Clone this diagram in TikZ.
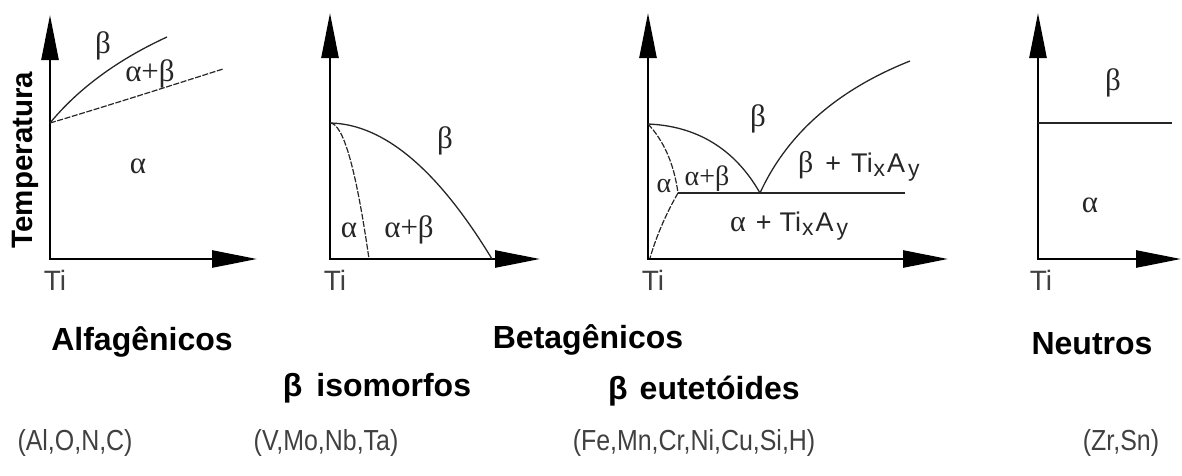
\documentclass[tikz,border=0pt]{standalone}
\usepackage{fontspec}
\setmainfont{Liberation Sans}
\newfontfamily\grk{Liberation Serif}
\usetikzlibrary{arrows.meta}
\newcommand\subl[1]{\raisebox{-4pt}{\fontsize{23}{23}\selectfont #1}}
\newcommand\TiXAy{Ti\hspace{1pt}\subl{x}\hspace{2pt}A\hspace{3pt}\subl{y}}
\begin{document}
\begin{tikzpicture}[x=1pt,y=-1pt,
  axis/.style={line width=2.6pt,{Triangle[length=45pt,width=17pt]}-{Triangle[length=45pt,width=17pt]}},
  bound/.style={line width=1.3pt, black!85},
  dbound/.style={line width=1.2pt, black!85, dash pattern=on 6pt off 1.6pt},
  gk/.style={font=\grk\fontsize{31}{33}\selectfont, text=black!85, inner sep=0pt, anchor=base},
  mix/.style={font=\fontsize{27}{30}\selectfont, text=black!85, inner sep=0pt, anchor=base west},
  tilab/.style={font=\fontsize{28}{30}\selectfont, text=black!75, inner sep=0pt, anchor=base},
  title/.style={font=\bfseries\fontsize{32}{34}\selectfont, inner sep=0pt, anchor=base},
  elem/.style={font=\fontsize{29}{31}\selectfont, text=black!75, inner sep=0pt, anchor=base, xscale=0.86}
]
\useasboundingbox (0,0) rectangle (1182,475);

% ---------- panel 1: alfagenicos
\coordinate (t1) at (50,15);
\coordinate (o1) at (50,259);
\coordinate (r1) at (257,259);
\coordinate (s1) at (50,123);
\coordinate (e1a) at (167,37);
\coordinate (e1b) at (223,69);
\draw[axis] (t1) -- (o1) -- (r1);
\draw[bound] (s1) .. controls (78,89) and (117,60) .. (e1a);
\draw[dbound] (s1) .. controls (97,109) and (154,91) .. (e1b);
\node[gk] (b1) at (103,53) {β};
\node[gk] (ab1) at (150,81) {α+β};
\node[gk] (a1) at (138,173) {α};
\node[tilab] (ti1) at (55,290) {Ti};
\node[rotate=90, font=\bfseries\fontsize{29.5}{30}\selectfont, inner sep=0pt] (temp) at (25,160) {Temperatura};

% ---------- panel 2: beta isomorfos
\coordinate (t2) at (330,13);
\coordinate (o2) at (330,259);
\coordinate (r2) at (540,259);
\coordinate (s2) at (330,123);
\coordinate (e2a) at (492,259);
\coordinate (e2b) at (369,259);
\draw[axis] (t2) -- (o2) -- (r2);
\draw[bound] (s2) .. controls (384,124) and (438,170) .. (e2a);
\draw[dbound] (s2) .. controls (343,123) and (356,168) .. (e2b);
\node[gk] (b2) at (445,148) {β};
\node[gk] (a2) at (349,237) {α};
\node[gk] (ab2) at (409,237) {α+β};
\node[tilab] (ti2) at (335,290) {Ti};

% ---------- panel 3: beta eutetoides
\coordinate (t3) at (648,13);
\coordinate (o3) at (648,259);
\coordinate (r3) at (948,259);
\coordinate (s3) at (648,124);
\coordinate (tp3) at (678,193);
\coordinate (eu3) at (760,193);
\coordinate (he3) at (905,193);
\coordinate (bt) at (650,258);
\coordinate (e3) at (910,61);
\draw[axis] (t3) -- (o3) -- (r3);
\draw[bound] (s3) .. controls (697,126) and (735,149) .. (eu3);
\draw[dbound] (s3) .. controls (664,141) and (674,164) .. (tp3);
\draw[dbound] (tp3) .. controls (667,212) and (657,234) .. (bt);
\draw[bound] (tp3) -- (he3);
\draw[bound] (eu3) .. controls (787,134) and (837,90) .. (e3);
\node[gk] (b3) at (758,126) {β};
\node[gk, font=\grk\fontsize{28}{30}\selectfont] (ab3) at (707,185) {α+β};
\node[gk, font=\grk\fontsize{28}{30}\selectfont] (a3) at (664,192) {α};
\node[mix] (bt3) at (798,172) {{\grk\fontsize{30}{30}\selectfont β}\hspace{12pt}+\hspace{10pt}\TiXAy};
\node[mix] (at3) at (730,231) {{\grk\fontsize{30}{30}\selectfont α}\hspace{10pt}+\hspace{8pt}\TiXAy};
\node[tilab] (ti3) at (653,290) {Ti};

% ---------- panel 4: neutros
\coordinate (t4) at (1038,13);
\coordinate (o4) at (1038,259);
\coordinate (r4) at (1181,259);
\coordinate (l4a) at (1038,123);
\coordinate (l4b) at (1172,123);
\draw[axis] (t4) -- (o4) -- (r4);
\draw[bound] (l4a) -- (l4b);
\node[gk] (b4) at (1113,90) {β};
\node[gk] (a4) at (1090,212) {α};
\node[tilab] (ti4) at (1041,290) {Ti};

% ---------- captions
\node[title] (alfa) at (142,350) {Alfagênicos};
\node[title] (beta) at (588,348) {Betagênicos};
\node[title] (neut) at (1092,354) {Neutros};
\node[title] (iso) at (377,396) {β\hspace{14pt}isomorfos};
\node[title] (eut) at (704,399) {β\hspace{12pt}eutetóides};
\node[elem] (el1) at (75,450) {(Al,O,N,C)};
\node[elem] (el2) at (326,450) {(V,Mo,Nb,Ta)};
\node[elem] (el3) at (694,450) {(Fe,Mn,Cr,Ni,Cu,Si,H)};
\node[elem] (el4) at (1121,450) {(Zr,Sn)};
\end{tikzpicture}
\end{document}
